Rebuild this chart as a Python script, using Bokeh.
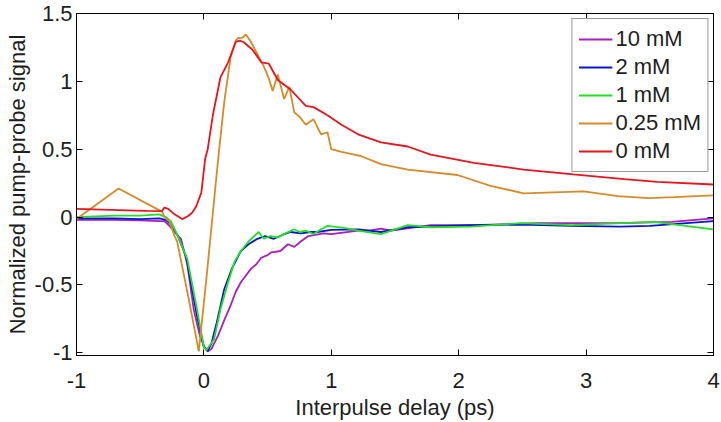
from bokeh.plotting import figure
from bokeh.models import LinearAxis, FixedTicker, Legend, LegendItem, Range1d
from bokeh.embed import file_html
from bokeh.resources import INLINE

# ---------------- data ----------------
series_names = ["10 mM", "2 mM", "1 mM", "0.25 mM", "0 mM"]
series_colors = ["#A81EC0", "#0A14D2", "#22E022", "#D98A28", "#E8141E"]

x_10mM = [-1.0, -0.7, -0.5, -0.35, -0.31, -0.27, -0.23, -0.18, -0.13, -0.08, -0.03, 0.0, 0.03,
          0.06, 0.11, 0.16, 0.21, 0.25, 0.29, 0.33, 0.37, 0.41, 0.45, 0.5, 0.53, 0.6, 0.66, 0.71,
          0.76, 0.82, 0.94, 1.0, 1.21, 1.3, 1.39, 1.47, 1.78, 2.1, 2.62, 3.27, 3.67, 4.0]
y_10mM = [-0.02, -0.02, -0.025, -0.03, -0.03, -0.065, -0.11, -0.16, -0.35, -0.68, -0.88, -0.95, -0.99,
          -0.97, -0.875, -0.76, -0.65, -0.55, -0.48, -0.43, -0.38, -0.35, -0.30, -0.28, -0.26, -0.25, -0.2, -0.22,
          -0.18, -0.14, -0.12, -0.125, -0.10, -0.10, -0.085, -0.10, -0.06, -0.06, -0.045, -0.045, -0.035, -0.01]

x_2mM = [-1.0, -0.7, -0.5, -0.35, -0.3, -0.25, -0.2, -0.14, -0.06, 0.0, 0.03, 0.06, 0.1, 0.16,
         0.22, 0.29, 0.35, 0.42, 0.48, 0.55, 0.62, 0.68, 0.76, 0.84, 0.89, 1.0, 1.21, 1.39, 1.6,
         2.1, 2.5, 2.88, 3.27, 3.5, 4.0]
y_2mM = [-0.01, -0.01, -0.015, -0.01, -0.02, -0.06, -0.15, -0.29, -0.70, -0.96, -0.985, -0.93, -0.78, -0.53,
         -0.38, -0.25, -0.2, -0.16, -0.14, -0.16, -0.13, -0.11, -0.12, -0.11, -0.11, -0.095, -0.09, -0.11, -0.075,
         -0.06, -0.055, -0.065, -0.07, -0.065, -0.03]

x_1mM = [-1.0, -0.7, -0.5, -0.35, -0.30, -0.26, -0.2, -0.13, -0.06, 0.0, 0.02, 0.08, 0.13, 0.19,
         0.24, 0.29, 0.35, 0.43, 0.47, 0.52, 0.58, 0.64, 0.71, 0.75, 0.80, 0.86, 0.92, 0.97, 1.1,
         1.21, 1.39, 1.60, 1.78, 2.1, 2.49, 2.88, 3.53, 4.0]
y_1mM = [0.0, 0.01, 0.01, 0.02, 0.0, -0.03, -0.15, -0.31, -0.65, -0.96, -0.98, -0.9, -0.68, -0.48,
         -0.33, -0.25, -0.18, -0.11, -0.16, -0.14, -0.15, -0.12, -0.09, -0.11, -0.10, -0.125, -0.09, -0.065, -0.08,
         -0.1, -0.125, -0.06, -0.075, -0.07, -0.045, -0.06, -0.035, -0.09]

x_025mM = [-1.0, -0.67, -0.33, -0.30, -0.27, -0.23, -0.21, -0.12, -0.04, 0.02, 0.09, 0.12, 0.16, 0.21,
           0.25, 0.27, 0.30, 0.33, 0.37, 0.42, 0.47, 0.51, 0.54, 0.58, 0.63, 0.67, 0.71, 0.75, 0.80,
           0.86, 0.92, 0.97, 1.0, 1.08, 1.18, 1.23, 1.39, 1.60, 1.99, 2.25, 2.51, 2.98, 3.25, 3.49,
           3.69, 4.0]
y_025mM = [-0.015, 0.21, 0.04, -0.01, -0.035, -0.14, -0.18, -0.6, -0.99, -0.45, 0.22, 0.5, 0.85, 1.18,
           1.30, 1.32, 1.32, 1.345, 1.29, 1.2, 1.11, 1.02, 0.93, 1.05, 0.87, 0.96, 0.77, 0.74, 0.68,
           0.72, 0.61, 0.625, 0.5, 0.48, 0.46, 0.45, 0.39, 0.35, 0.31, 0.23, 0.175, 0.19, 0.155, 0.14,
           0.147, 0.16]

x_0mM = [-1.0, -0.8, -0.6, -0.45, -0.33, -0.31, -0.28, -0.23, -0.17, -0.12, -0.09, -0.06, -0.02,
         0.01, 0.03, 0.07, 0.13, 0.19, 0.25, 0.28, 0.31, 0.38, 0.45, 0.51, 0.58, 0.68, 0.8, 0.86,
         0.97, 1.08, 1.21, 1.39, 1.6, 1.78, 2.12, 2.51, 2.9, 3.3, 3.56, 4.0]
y_0mM = [0.06, 0.055, 0.05, 0.045, 0.044, 0.07, 0.06, 0.02, -0.015, 0.01, 0.035, 0.08, 0.18,
         0.43, 0.5, 0.75, 1.03, 1.14, 1.29, 1.30, 1.29, 1.235, 1.14, 1.13, 1.01, 0.94, 0.82, 0.81,
         0.75, 0.68, 0.61, 0.55, 0.52, 0.46, 0.40, 0.35, 0.315, 0.28, 0.26, 0.24]

xs = [x_10mM, x_2mM, x_1mM, x_025mM, x_0mM]
ys = [y_10mM, y_2mM, y_1mM, y_025mM, y_0mM]

x_limits = [-1, 4]
y_limits = [-1.02, 1.5]
x_ticks = [-1, 0, 1, 2, 3, 4]
x_tick_labels = ["-1", "0", "1", "2", "3", "4"]
y_ticks = [-1, -0.5, 0, 0.5, 1, 1.5]
y_tick_labels = ["-1", "-0.5", "0", "0.5", "1", "1.5"]

x_label = "Interpulse delay (ps)"
y_label = "Normalized pump-probe signal"

# ---------------- figure ----------------
FONT = "Liberation Sans"
TXT = "#1e1e1e"

p = figure(width=721, height=422, output_backend="svg", toolbar_location=None,
           x_range=Range1d(*x_limits), y_range=Range1d(*y_limits),
           min_border_left=76, min_border_right=8, min_border_top=13, min_border_bottom=65)
p.background_fill_color = "white"
p.border_fill_color = "white"
p.outline_line_color = "black"
p.outline_line_width = 1
p.xgrid.visible = False
p.ygrid.visible = False

def style_axis(ax, ticks, labels, show_labels=True):
    ax.ticker = FixedTicker(ticks=ticks)
    ax.minor_tick_line_color = None
    ax.major_tick_in = 6
    ax.major_tick_out = 0
    ax.major_tick_line_color = "black"
    ax.axis_line_color = "black"
    if show_labels:
        ax.major_label_overrides = {t: l for t, l in zip(ticks, labels)}
        ax.major_label_text_font = FONT
        ax.major_label_text_color = TXT
        ax.major_label_text_font_size = "22px"
        ax.major_label_text_line_height = 1.0
    else:
        ax.major_label_text_font_size = "0px"
        ax.major_label_text_color = None
        ax.major_label_text_alpha = 0
        ax.major_label_standoff = 0

xa = p.xaxis[0]
style_axis(xa, x_ticks, x_tick_labels)
xa.major_label_standoff = 17
xa.axis_label = x_label
xa.axis_label_text_font = FONT
xa.axis_label_text_font_size = "22px"
xa.axis_label_text_font_style = "normal"
xa.axis_label_text_color = TXT
xa.axis_label_text_line_height = 1.0
xa.axis_label_standoff = 4

ya = p.yaxis[0]
style_axis(ya, y_ticks, y_tick_labels)
ya.major_label_standoff = 4
ya.axis_label = y_label
ya.axis_label_text_font = FONT
ya.axis_label_text_font_size = "22px"
ya.axis_label_text_font_style = "normal"
ya.axis_label_text_color = TXT
ya.axis_label_text_line_height = 1.0
ya.axis_label_standoff = 2

top_ax = LinearAxis()
style_axis(top_ax, x_ticks, x_tick_labels, show_labels=False)
p.add_layout(top_ax, "above")
right_ax = LinearAxis()
style_axis(right_ax, y_ticks, y_tick_labels, show_labels=False)
p.add_layout(right_ax, "right")

items = []
for name, color, x, y in zip(series_names, series_colors, xs, ys):
    r = p.line(x, y, line_color=color, line_width=1.8)
    items.append(LegendItem(label=name, renderers=[r]))

legend = Legend(items=items, location="top_right")
legend.label_text_font = FONT
legend.label_text_font_size = "22px"
legend.label_text_color = TXT
legend.glyph_width = 34
legend.glyph_height = 28
legend.label_height = 28
legend.label_standoff = 3
legend.spacing = 0
legend.padding = 6
legend.margin = 5
legend.border_line_color = "#333333"
legend.border_line_width = 1
legend.background_fill_color = "white"
legend.background_fill_alpha = 1
p.add_layout(legend, "center")

open("out.html", "w").write(file_html(p, INLINE))
